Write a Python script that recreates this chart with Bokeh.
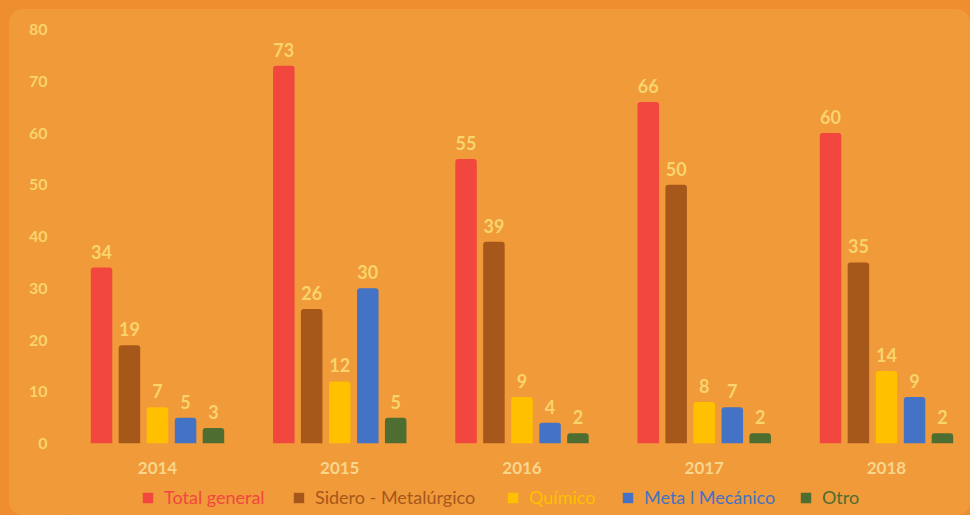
from bokeh.plotting import figure
from bokeh.models import ColumnDataSource, Range1d, FixedTicker, Legend, LegendItem
from bokeh.transform import dodge
from bokeh.layouts import column
from bokeh.embed import file_html
from bokeh.resources import INLINE
from bokeh.core.properties import value

years = ["2014", "2015", "2016", "2017", "2018"]
total_general = [34, 73, 55, 66, 60]
sidero = [19, 26, 39, 50, 35]
quimico = [7, 12, 9, 8, 14]
metal_mecanico = [5, 30, 4, 7, 9]
otro = [3, 5, 2, 2, 2]

series_names = ["Total general", "Sidero - Metalúrgico", "Químico", "Meta l Mecánico", "Otro"]
series_values = [total_general, sidero, quimico, metal_mecanico, otro]
colors = ["#F2473F", "#A6571A", "#FFC000", "#4472C4", "#4E6E31"]
offsets = [-0.307, -0.154, 0.0, 0.154, 0.307]
legend_x = [75, 226, 440, 555, 733]

OUTER = "#EE8E2E"
PANEL = "#F09A3A"
LABEL = "#F9D46C"

data = {"x": list(range(len(years)))}
for i, vals in enumerate(series_values):
    data[f"s{i}"] = vals
    data[f"t{i}"] = [str(v) for v in vals]
src = ColumnDataSource(data)

p = figure(width=961, height=471, output_backend="svg", toolbar_location=None,
           x_range=Range1d(-0.4993, 4.461), y_range=Range1d(0, 80),
           min_border_left=57, min_border_right=0, min_border_top=20, min_border_bottom=37)
p.background_fill_color = PANEL
p.border_fill_color = PANEL
p.outline_line_color = None
p.xgrid.visible = False
p.ygrid.visible = False

renderers = []
for i in range(5):
    r = p.vbar(x=dodge("x", offsets[i], range=p.x_range), top=f"s{i}", width=0.118,
               source=src, fill_color=colors[i], line_color=None,
               border_radius=(3, 3, 0, 0))
    renderers.append(r)
    p.text(x=dodge("x", offsets[i], range=p.x_range), y=f"s{i}", text=f"t{i}", source=src,
           text_align="center", text_baseline="bottom", y_offset=-9,
           text_font=value("Lato"), text_font_style="bold", text_font_size="18px",
           text_color=LABEL)

p.yaxis.ticker = FixedTicker(ticks=[0, 10, 20, 30, 40, 50, 60, 70, 80])
p.yaxis.axis_line_color = None
p.yaxis.major_tick_line_color = None
p.yaxis.minor_tick_line_color = None
p.yaxis.major_label_standoff = 13
p.yaxis.major_label_text_font = "Lato"
p.yaxis.major_label_text_font_style = "bold"
p.yaxis.major_label_text_font_size = "16px"
p.yaxis.major_label_text_color = LABEL

p.xaxis.ticker = FixedTicker(ticks=list(range(len(years))))
p.xaxis.major_label_overrides = {i: y for i, y in enumerate(years)}
p.xaxis.axis_line_color = None
p.xaxis.major_tick_line_color = None
p.xaxis.minor_tick_line_color = None
p.xaxis.major_label_standoff = 12
p.xaxis.major_label_text_font = "Lato"
p.xaxis.major_label_text_font_style = "bold"
p.xaxis.major_label_text_font_size = "17px"
p.xaxis.major_label_text_color = "#F8D68C"

# legend strip (same left border as the chart so frames line up)
lg_fig = figure(width=961, height=35, output_backend="svg", toolbar_location=None,
                x_range=Range1d(0, 904), y_range=Range1d(0, 35),
                x_axis_location=None, y_axis_location=None,
                min_border_left=57, min_border_right=0,
                min_border_top=0, min_border_bottom=0)
lg_fig.background_fill_color = PANEL
lg_fig.border_fill_color = PANEL
lg_fig.outline_line_color = None
lg_fig.xgrid.visible = False
lg_fig.ygrid.visible = False

for i in range(5):
    proxy = lg_fig.vbar(x=[-1000], top=[1], width=1, fill_color=colors[i], line_color=None)
    lg = Legend(items=[LegendItem(label=series_names[i], renderers=[proxy])],
                location=(legend_x[i], 7), orientation="horizontal",
                padding=0, margin=0, glyph_width=13, glyph_height=13, label_height=13,
                label_standoff=10, border_line_color=None, background_fill_alpha=0,
                label_text_font="Lato", label_text_font_size="18px",
                label_text_color=colors[i])
    lg_fig.add_layout(lg, "center")

inner = column(p, lg_fig, width=961, height=506,
               styles={"background-color": PANEL, "border-radius": "14px", "overflow": "hidden"})
inner.margin = (9, 0, 0, 9)
root = column(inner, width=970, height=515, styles={"background-color": OUTER})

open("out.html", "w").write(file_html(root, INLINE))
